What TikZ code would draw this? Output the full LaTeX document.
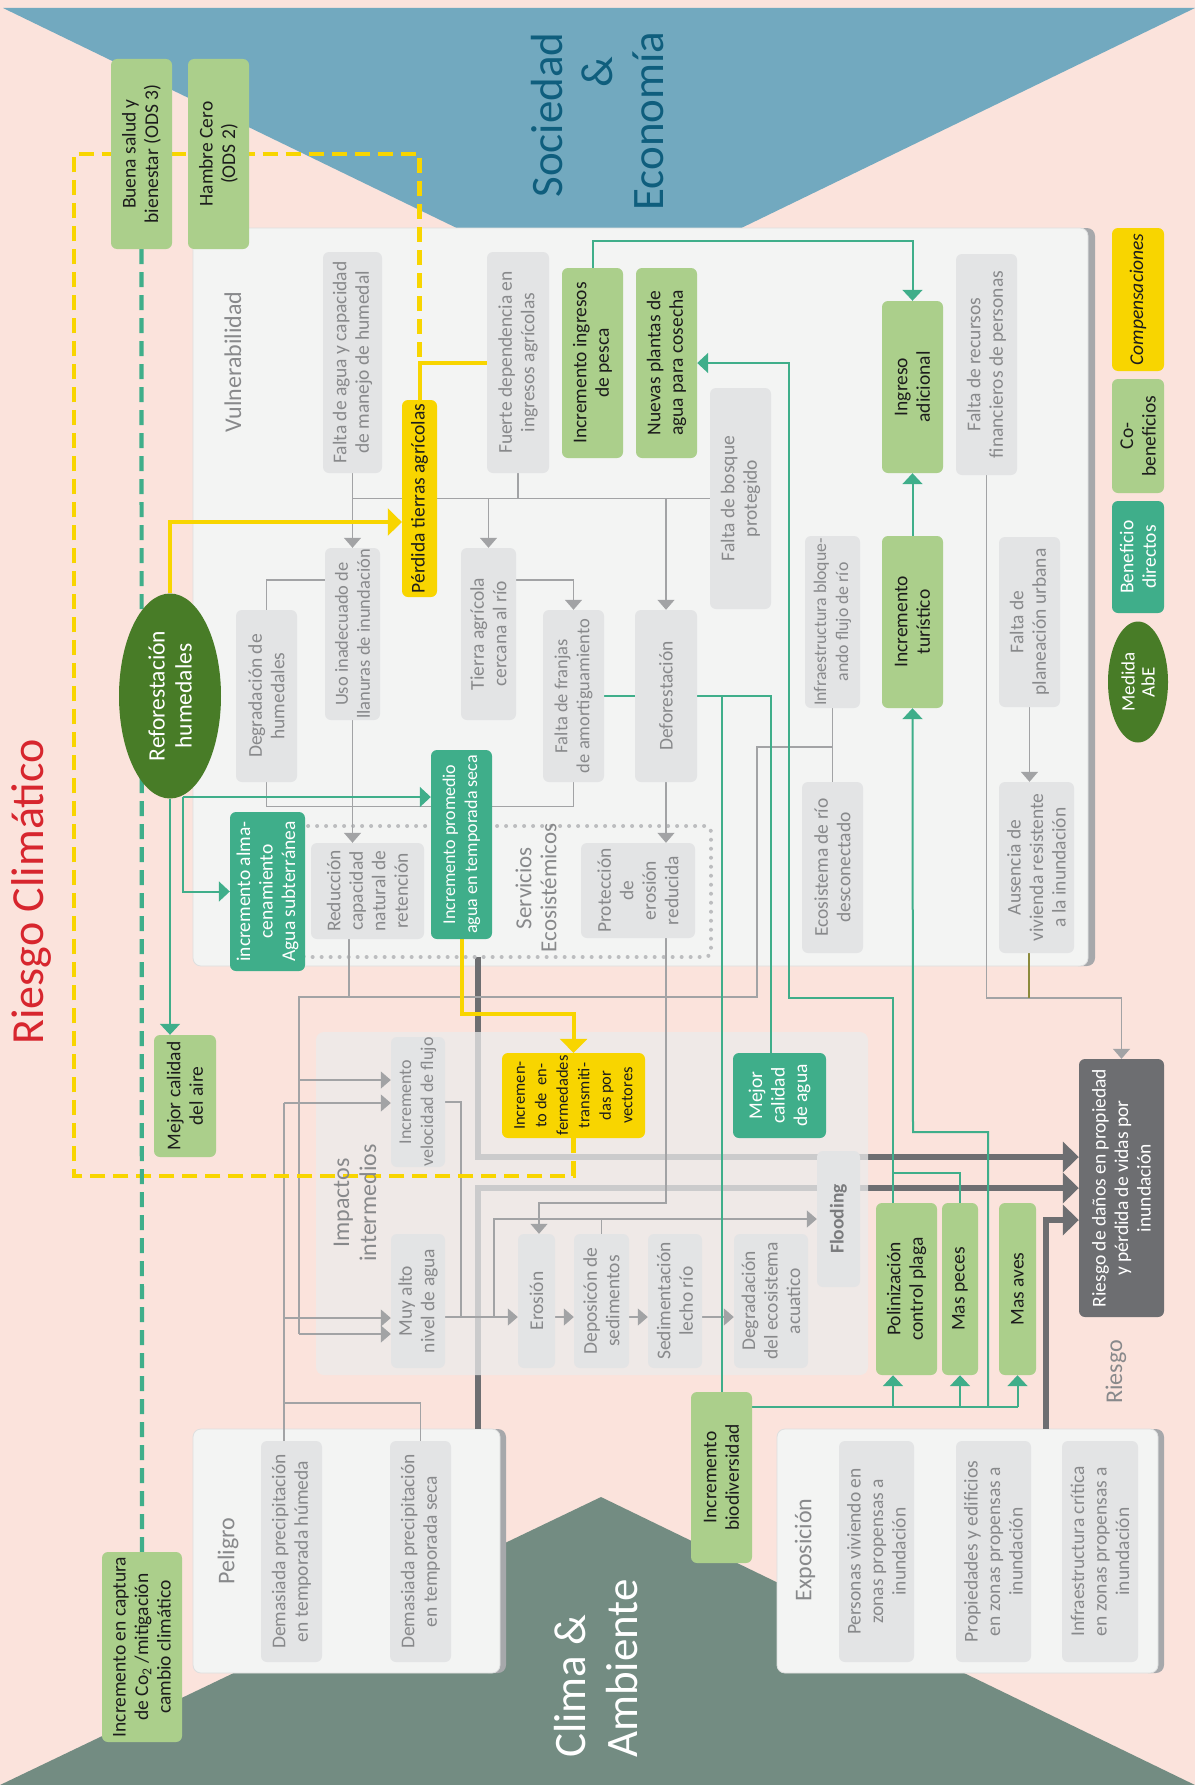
\documentclass[tikz,border=0pt]{standalone}
\usepackage{fontspec}
\setmainfont{Carlito}
\usetikzlibrary{arrows.meta,shapes.geometric}
\definecolor{pinkc}{HTML}{FBE3DC}
\definecolor{bluec}{HTML}{72A9BF}
\definecolor{greenc}{HTML}{738C82}
\definecolor{titleblue}{HTML}{0F5E7D}
\definecolor{redc}{HTML}{D7262E}
\definecolor{panelc}{HTML}{F3F4F3}
\definecolor{panelb}{HTML}{DEDFDF}
\definecolor{shadowc}{HTML}{A6A8AB}
\definecolor{gboxc}{HTML}{E3E4E5}
\definecolor{gtext}{HTML}{88898B}
\definecolor{lgreen}{HTML}{ABCF8B}
\definecolor{tealc}{HTML}{3FAE8A}
\definecolor{dgreen}{HTML}{487C27}
\definecolor{yelc}{HTML}{F8D500}
\definecolor{dgrey}{HTML}{6D6E71}
\definecolor{lgrey}{HTML}{A2A3A5}
\definecolor{olc}{HTML}{8C8A3C}
\definecolor{impc}{HTML}{ECECEC}
\definecolor{dotc}{HTML}{BCBDBF}
\definecolor{txt}{HTML}{1C1C1C}
\definecolor{floodc}{HTML}{7A7B7D}
\pgfdeclarelayer{L1}\pgfdeclarelayer{L2}\pgfdeclarelayer{L3}\pgfdeclarelayer{L4}
\pgfsetlayers{L1,L2,L3,L4,main}
\newcommand\bxfont{\fontsize{19.5}{22.5}\selectfont}
\newcommand\smfont{\fontsize{18.5}{22}\selectfont}
\newcommand\lblfont{\fontsize{24}{27}\selectfont}
\newcommand\bigfont{\fontsize{45}{50}\selectfont}
\newcommand\bx[7]{%
 \pgfmathsetmacro\bxw{#6-#4}\pgfmathsetmacro\bxh{#5-#3}%
 \pgfmathsetmacro\bxcx{(#3+#5)/2}\pgfmathsetmacro\bxcy{(#4+#6)/2}%
 \node[#2, minimum width=\bxw pt, minimum height=\bxh pt] (#1) at (\bxcx,\bxcy) {#7};}
\tikzset{
 box/.style={rotate=90, rounded corners=6pt, inner sep=0pt, align=center, font=\bxfont},
 gbox/.style={box, fill=gboxc, text=gtext},
 lgbox/.style={box, fill=lgreen, text=txt},
 tbox/.style={box, fill=tealc, text=white},
 ybox/.style={box, fill=yelc, text=txt},
 dbox/.style={box, fill=dgrey, text=white},
 ellbox/.style={ellipse, rotate=90, inner sep=0pt, align=center, fill=dgreen, text=white},
 lbl/.style={rotate=90, inner sep=0pt, align=center, text=gtext, font=\lblfont},
 ttl/.style={rotate=90, inner sep=0pt, font=\bigfont},
 panelst/.style={fill=panelc, draw=panelb, line width=0.8pt, rounded corners=8pt, inner sep=0pt},
 gl/.style={draw=lgrey, line width=1.3pt},
 ga/.style={gl, -{Triangle[width=17pt,length=10pt]}},
 tl/.style={draw=tealc, line width=2pt},
 ta/.style={tl, -{Triangle[width=20pt,length=11pt]}},
 yl/.style={draw=yelc, line width=4pt},
 ya/.style={yl, -{Triangle[width=27pt,length=14pt]}},
 yd/.style={draw=yelc, line width=4.2pt, dash pattern=on 15pt off 8pt},
 td/.style={draw=tealc, line width=4.2pt, dash pattern=on 15pt off 8pt},
 thk/.style={draw=dgrey, line width=6pt, -{Triangle[width=30pt,length=16pt]}},
 oll/.style={draw=olc, line width=1.3pt}
}
\begin{document}
\begin{tikzpicture}[x=1pt,y=-1pt]
\useasboundingbox (0,0) rectangle (1195,1785);
% ---------- background and panels
\begin{pgfonlayer}{L1}
\fill[pinkc] (0,0) rectangle (1195,1785);
\fill[bluec] (3,8) -- (1195,8) -- (599,297) -- cycle;
\fill[greenc] (0,1785) -- (601,1497) -- (1195,1785) -- cycle;
\fill[shadowc, rounded corners=8pt] (1070,228) rectangle (1095,966);
\node[panelst, minimum width=895pt, minimum height=738pt] (vulnp) at (640.5,597) {};
\fill[shadowc, rounded corners=8pt] (480,1429) rectangle (506,1673);
\node[panelst, minimum width=307pt, minimum height=244pt] (pelp) at (346.5,1551) {};
\fill[shadowc, rounded corners=8pt] (1140,1429) rectangle (1164,1673);
\node[panelst, minimum width=381pt, minimum height=244pt] (expp) at (967.5,1551) {};
\end{pgfonlayer}
% ---------- titles
\node[ttl, anchor=base, text=redc, font=\fontsize{46}{50}\selectfont] (trc) at (43,892) {Riesgo Climático};
\node[ttl, anchor=base, text=titleblue] (tsoc) at (562,115) {Sociedad};
\node[ttl, anchor=base, text=titleblue] (tamp) at (612,72) {\&};
\node[ttl, anchor=base, text=titleblue] (teco) at (663,121) {Economía};
\node[ttl, anchor=base west, text=white] (tcli) at (585,1758) {Clima \&};
\node[ttl, anchor=base west, text=white] (tamb) at (637,1758) {Ambiente};
% ---------- labels
\node[lbl] (lvul) at (233,362) {Vulnerabilidad};
\node[lbl] (limp) at (355,1203) {Impactos\\intermedios};
\node[lbl, font=\fontsize{23}{25}\selectfont] (lser) at (536,888) {Servicios\\Ecosistémicos};
\node[lbl] (lrie) at (1116,1372) {Riesgo};
\node[lbl] (lpel) at (228,1551) {Peligro};
\node[lbl] (lexp) at (805,1550) {Exposición};
% ---------- boxes
\bx{ods3}{lgbox}{111}{59}{172}{249}{Buena salud y\\bienestar (ODS 3)}
\bx{ods2}{lgbox}{188}{59}{249}{249}{Hambre Cero\\(ODS 2)}
\bx{fagua}{gbox}{323}{252}{382}{473}{Falta de agua y capacidad\\de manejo de humedal}
\bx{fuerte}{gbox}{487}{252}{549}{473}{Fuerte dependencia en\\ingresos agrícolas}
\bx{pesca}{lgbox}{562}{268}{623}{458}{Incremento ingresos\\de pesca}
\bx{nuevas}{lgbox}{636}{268}{697}{458}{Nuevas plantas de\\agua para cosecha}
\bx{ingreso}{lgbox}{882}{301}{943}{473}{Ingreso\\adicional}
\bx{frec}{gbox}{956}{254}{1017}{475}{Falta de recursos\\financieros de personas}
\bx{comp}{ybox}{1112}{228}{1164}{371}{\itshape Compensaciones}
\bx{cob}{lgbox}{1112}{379}{1164}{493}{Co-\\beneficios}
\bx{bdir}{tbox}{1112}{501}{1164}{613}{Beneficio\\directos}
\node[ellbox, minimum width=121pt, minimum height=60pt, font=\fontsize{19}{20}\selectfont] (medida) at (1138,682) {Medida\\AbE};
\bx{perdida}{ybox}{402}{400}{437}{597}{Pérdida tierras agrícolas}
\bx{fbosque}{gbox}{710}{388}{771}{609}{Falta de bosque\\protegido}
\node[ellbox, minimum width=205pt, minimum height=102pt, font=\fontsize{23.5}{27}\selectfont] (reforest) at (170,696) {Reforestación\\humedales};
\bx{degr}{gbox}{236}{610}{297}{782}{Degradación de\\humedales}
\bx{uso}{gbox,font=\smfont}{325}{548}{380}{720}{Uso inadecuado de\\llanuras de inundación}
\bx{tierra}{gbox}{461}{548}{516}{720}{Tierra agrícola\\cercana al río}
\bx{franjas}{gbox,font=\smfont}{543}{610}{604}{782}{Falta de franjas\\de amortiguamiento}
\bx{defor}{gbox}{635}{610}{697}{782}{Deforestación}
\bx{infra}{gbox,font=\fontsize{17.8}{22}\selectfont}{805}{536}{860}{708}{Infraestructura bloque-\\ando flujo de río}
\bx{turis}{lgbox}{882}{536}{943}{708}{Incremento\\turístico}
\bx{plan}{gbox}{999}{537}{1060}{707}{Falta de\\planeación urbana}
\bx{eco}{gbox}{802}{782}{863}{953}{Ecosistema de río\\desconectado}
\bx{aus}{gbox}{999}{782}{1074}{953}{Ausencia de\\vivienda resistente\\a la inundación}
\bx{almac}{tbox}{230}{812}{305}{971}{incremento alma-\\cenamiento\\Agua subterránea}
\bx{redu}{gbox}{311}{843}{424}{939}{Reducción\\capacidad\\natural de\\retención}
\bx{incprom}{tbox,font=\fontsize{18}{22}\selectfont}{431}{750}{492}{939}{Incremento promedio\\agua en temporada seca}
\bx{prot}{gbox}{581}{843}{695}{938}{Protección\\de\\erosión\\reducida}
\bx{aire}{lgbox}{154}{1035}{216}{1157}{Mejor calidad\\del aire}
\bx{vel}{gbox,font=\fontsize{18}{22}\selectfont}{391}{1037}{445}{1167}{Incremento\\velocidad de flujo}
\bx{muy}{gbox}{391}{1234}{445}{1368}{Muy alto\\nivel de agua}
\bx{enf}{ybox,font=\fontsize{16.5}{21.5}\selectfont}{502}{1053}{645}{1138}{Incremen-\\to de\ \ en-\\fermedades\\transmiti-\\das por\\vectores}
\bx{agua}{tbox}{733}{1053}{826}{1138}{Mejor\\calidad\\de agua}
\bx{eros}{gbox}{518}{1234}{555}{1368}{Erosión}
\bx{depo}{gbox}{574}{1234}{629}{1368}{Deposicón de\\sedimentos}
\bx{sedi}{gbox}{648}{1234}{702}{1368}{Sedimentación\\lecho río}
\bx{degeco}{gbox}{734}{1234}{808}{1368}{Degradación\\del ecosistema\\acuatico}
\bx{flood}{gbox,text=floodc}{817}{1151}{860}{1287}{\bfseries Flooding}
\bx{poli}{lgbox}{876}{1203}{937}{1375}{Polinización\\control plaga}
\bx{peces}{lgbox}{942}{1203}{978}{1375}{Mas peces}
\bx{aves}{lgbox}{999}{1203}{1036}{1375}{Mas aves}
\bx{riesgo}{dbox}{1079}{1059}{1164}{1317}{Riesgo de daños en propiedad\\y pérdida de vidas por\\inundación}
\bx{hum}{gbox}{261}{1441}{322}{1662}{Demasiada precipitación\\en temporada húmeda}
\bx{seca}{gbox}{390}{1441}{451}{1662}{Demasiada precipitación\\en temporada seca}
\bx{co2}{lgbox}{102}{1552}{182}{1742}{Incremento en captura\\de Co\textsubscript{2} /mitigación\\cambio climático}
\bx{biod}{lgbox}{691}{1392}{752}{1563}{Incremento\\biodiversidad}
\bx{pers}{gbox}{839}{1441}{914}{1662}{Personas viviendo en\\zonas propensas a\\inundación}
\bx{prop}{gbox}{956}{1441}{1031}{1662}{Propiedades y edificios\\en zonas propensas a\\inundación}
\bx{infc}{gbox}{1062}{1441}{1138}{1662}{Infraestructura crítica\\en zonas propensas a\\inundación}
% ---------- thick risk lines
\begin{pgfonlayer}{L2}
\coordinate (servbot) at (478,957);
\draw[thk] (servbot) -- (478,1157) -- (riesgo.north |- 0,1157);
\draw[thk] (478,0 |- pelp.north) -- (478,1188) -- (riesgo.north |- 0,1188);
\draw[thk] (1046,0 |- expp.north) -- (1046,1220) -- (riesgo.north |- 0,1220);
\end{pgfonlayer}
% ---------- overlays
\begin{pgfonlayer}{L3}
\node[fill=impc, fill opacity=.74, rounded corners=8pt, inner sep=0pt, minimum width=552pt, minimum height=343pt] (impp) at (592,1203.5) {};
\draw[dotc, line width=4pt, line cap=round, dash pattern=on 0pt off 9pt, rounded corners=6pt] (300,826) rectangle (711,957);
\end{pgfonlayer}
% ---------- connectors
\begin{pgfonlayer}{L4}
% grey
\draw[gl] (fagua.west |- fbosque.north) -- (fbosque.north);
\draw[ga] (fagua.west) -- (uso.east);
\draw[gl] (fuerte.west) -- (fuerte.west |- fbosque.north);
\draw[ga] (tierra.east |- fbosque.north) -- (tierra.east);
\draw[ga] (defor.east |- fbosque.north) -- (defor.east);
\draw[gl] (degr.east) |- (uso.north |- 0,580);
\draw[gl] (degr.west) -- ++(0,24) -| (franjas.west);
\draw[ga] (uso.west) -- (uso.west |- redu.east);
\draw[ga] (tierra.south |- 0,580) -| (franjas.east);
\draw[ga] (defor.west) -- (defor.west |- prot.east);
\draw[ga] (plan.west) -- (plan.west |- aus.east);
\draw[gl] (infra.west) -- (eco.east);
\draw[gl] (infra.west |- 0,747) -| (757,997) -| (299,1334);
\draw[ga] (299,1334) -- (muy.north |- 0,1334);
\draw[ga] (299,1080) -- (vel.north |- 0,1080);
\draw[gl] (349,0 |- redu.west) -- (349,997);
\draw[gl] (284,0 |- hum.east) -- (284,1103);
\draw[ga] (284,1103) -- (vel.north |- 0,1103);
\draw[ga] (284,1318) -- (muy.north |- 0,1318);
\draw[gl] (seca.east) |- (284,1403);
\draw[gl] (vel.south |- 0,1102) -| (461,1317);
\draw[ga] (muy.south |- 0,1317) -- (eros.north |- 0,1317);
\draw[ga] (eros.south |- 0,1317) -- (depo.north |- 0,1317);
\draw[ga] (depo.south |- 0,1317) -- (sedi.north |- 0,1317);
\draw[ga] (sedi.south |- 0,1317) -- (degeco.north |- 0,1317);
\draw[ga] (494,1317) |- (flood.north);
\draw[gl] (depo.east) -- (depo.east |- flood.north);
\draw[ga] (666,0 |- prot.west) |- (539,1203) -- (539,0 |- eros.east);
\draw[ga] (frec.west) |- (riesgo.east |- 0,998) -- (riesgo.east);
\draw[oll] (1029,0 |- aus.west) -- (1029,998);
% teal
\draw[ta] (pesca.east) -- ++(0,-27) -| (ingreso.east);
\draw[ta] (turis.east) -- (ingreso.west);
\draw[tl] (biod.south |- 0,1407) -- (aves.west |- 0,1407);
\draw[ta] (893,1407) -- (893,0 |- poli.west);
\draw[ta] (peces.west |- 0,1407) -- (peces.west);
\draw[ta] (aves.west |- 0,1407) -- (aves.west);
\draw[ta] (988,1407) |- (913,1132) -- (turis.west);
\draw[ta] (893,0 |- poli.east) |- (789,998) |- (nuevas.south);
\draw[tl] (peces.east) |- (893,1173);
\draw[tl] (franjas.south) -| (771,0 |- agua.east);
\draw[tl] (biod.east) -- (biod.east |- franjas.south);
\coordinate (rb) at (183,797);
\draw[ta] (rb) -- (incprom.north |- rb);
\draw[ta] (rb) |- (almac.north);
\draw[ta] (reforest.west) -- (reforest.west |- aire.east);
% yellow
\draw[ya] (reforest.east) |- (perdida.north |- 0,522);
\draw[yl] (fuerte.north) -| (perdida.east);
\draw[ya] (incprom.west) |- (enf.east |- 0,1014) -- (enf.east);
\draw[yd] (enf.west) -- (enf.west |- 0,1176) -| (74,154) -| (perdida.east |- fuerte.north);
\draw[td] (ods3.west) -- (co2.east);
\end{pgfonlayer}
\end{tikzpicture}
\end{document}
